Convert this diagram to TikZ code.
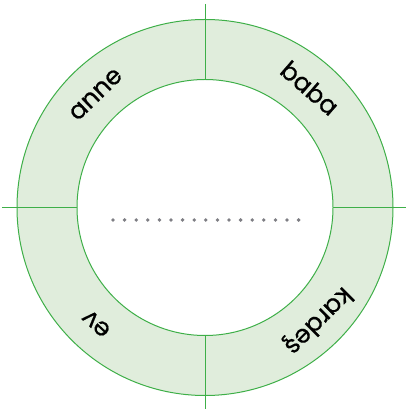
\documentclass[tikz,border=0pt]{standalone}
\usepackage{fontspec}
\setmainfont{Poppins}[FakeBold=0.6]
\definecolor{ringfill}{HTML}{E0EDDC}
\definecolor{ringline}{HTML}{3EAF48}
\definecolor{dotgray}{HTML}{7E7E84}

\begin{document}
\begin{tikzpicture}[x=1pt,y=1pt,
  ring/.style={draw=ringline,line width=1pt},
  word/.style={font=\fontsize{25}{25}\selectfont,inner sep=0pt}]
\useasboundingbox (-205,-203.5) rectangle (201,207.5);
\coordinate (O) at (0,0);
\coordinate (top) at (0,203.5);
\coordinate (bot) at (0,-201.5);
\coordinate (lft) at (-203,0);
\coordinate (rgt) at (201,0);
% ring
\fill[ring,fill=ringfill] (O) circle (188);
\draw[ring] (top) -- (bot);
\draw[ring] (lft) -- (rgt);
\fill[ring,fill=white] (O) circle (128);
% words round the ring
\node[word,rotate=44] (anne) at (134:157) {anne};
\node[word,rotate=-41] (baba) at (48.7:159) {baba};
\node[word,rotate=-135] (kardes) at (-45:159) {kardeş};
\node[word,rotate=137] (ev) at (227:159) {ev};
% dotted line
\foreach \i in {0,...,16}
  \fill[dotgray] (-92+\i*11.6,-12.5) circle (1.9);
\end{tikzpicture}
\end{document}
